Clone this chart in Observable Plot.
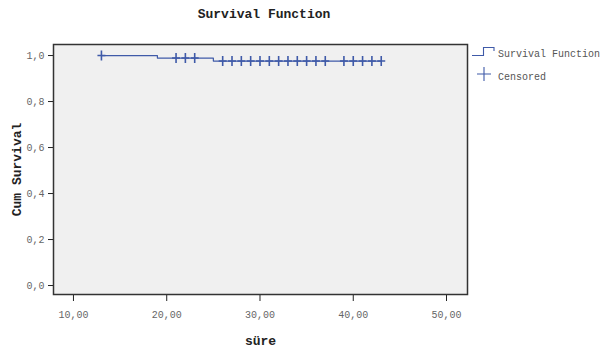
<!DOCTYPE html>
<html>
<head>
<meta charset="utf-8">
<script src="https://cdn.jsdelivr.net/npm/d3@7"></script>
<script src="https://cdn.jsdelivr.net/npm/@observablehq/plot@0.6"></script>
<style>
  html, body { margin: 0; padding: 0; background: #fff; }
  #wrap { position: relative; width: 600px; height: 353px; overflow: hidden; font-family: "Liberation Mono", "DejaVu Sans Mono", monospace; }
  #title { position: absolute; left: 0; top: 7px; width: 528px; text-align: center; font-weight: bold; font-size: 13px; color: #222; }
  #legend { position: absolute; left: 468px; top: 40px; width: 132px; height: 50px; overflow: visible; }
  #chart { position: absolute; left: 0; top: 0; }
</style>
</head>
<body>
<div id="wrap">
  <div id="chart"></div>
  <div id="title">Survival Function</div>
  <svg id="legend" width="132" height="50"></svg>
</div>
<script>
// Survival function steps (time, cumulative survival)
const stepTimes = [13, 19, 25, 43];
const stepSurvival = [1.0, 0.989, 0.976, 0.976];
// Censored observations (time, survival at that time)
const censorTimes = [13, 21, 22, 23, 26, 27, 28, 29, 30, 31, 32, 33, 34, 35, 36, 37, 39, 40, 41, 42, 43];
const censorSurvival = [1.0, 0.989, 0.989, 0.989, 0.976, 0.976, 0.976, 0.976, 0.976, 0.976, 0.976, 0.976, 0.976, 0.976, 0.976, 0.976, 0.976, 0.976, 0.976, 0.976, 0.976];
const xTicks = [10, 20, 30, 40, 50];
const yTicks = [0, 0.2, 0.4, 0.6, 0.8, 1.0];
const seriesNames = ["Survival Function", "Censored"];

const lineColor = "#3f5aa8";
const steps = stepTimes.map((t, i) => ({t, s: stepSurvival[i]}));
const censors = censorTimes.map((t, i) => ({t, s: censorSurvival[i]}));

const crossSymbol = {
  draw(ctx, size) {
    ctx.moveTo(-4, 0); ctx.lineTo(4, 0);
    ctx.moveTo(0, -5); ctx.lineTo(0, 5);
  }
};

const fmtX = d => d3.format(".2f")(d).replace(".", ",");
const fmtY = d => d3.format(".1f")(d).replace(".", ",");

const chart = Plot.plot({
  width: 600,
  height: 353,
  marginLeft: 53,
  marginRight: 133,
  marginTop: 44,
  marginBottom: 59,
  style: {fontFamily: "'Liberation Mono', 'DejaVu Sans Mono', monospace", fontSize: "10px", background: "transparent", color: "#666"},
  x: {domain: [7.86, 52.25], ticks: xTicks, tickFormat: fmtX},
  y: {domain: [-0.039, 1.048], ticks: yTicks, tickFormat: fmtY},
  marks: [
    Plot.frame({fill: "#f0f0f0", stroke: "none"}),
    Plot.axisX({ticks: xTicks, tickFormat: fmtX, tickSize: 7, tickPadding: 9, stroke: "#222", color: "#666",
      label: "süre", labelAnchor: "center", labelArrow: "none", labelOffset: 50}),
    Plot.axisY({ticks: yTicks, tickFormat: fmtY, tickSize: 5, tickPadding: 4, stroke: "#222", color: "#666",
      label: "Cum Survival", labelAnchor: "center", labelArrow: "none", labelOffset: 42}),
    Plot.line(steps, {x: "t", y: "s", curve: "step-after", stroke: lineColor, strokeWidth: 1.2}),
    Plot.dot(censors, {x: "t", y: "s", symbol: crossSymbol, stroke: lineColor, strokeWidth: 1.6, fill: "none"}),
    Plot.frame({stroke: "#333", strokeWidth: 1.5})
  ]
});
// style axis labels
chart.querySelectorAll("g[aria-label='x-axis label'] text, g[aria-label='y-axis label'] text").forEach(t => {
  t.setAttribute("font-weight", "bold");
  t.setAttribute("font-size", "13px");
  t.setAttribute("fill", "#222");
});
document.getElementById("chart").appendChild(chart);

// Legend
const lg = d3.select("#legend");
lg.append("path").attr("d", "M4,15.5H15.5V7.5H26V11").attr("fill", "none").attr("stroke", lineColor).attr("stroke-width", 1.1);
lg.append("text").attr("x", 30).attr("y", 17).attr("font-size", "10px").attr("fill", "#555")
  .attr("font-family", "'Liberation Mono', monospace").text(seriesNames[0]);
lg.append("path").attr("d", "M9,34H23M16,27V41").attr("fill", "none").attr("stroke", lineColor).attr("stroke-width", 1.1);
lg.append("text").attr("x", 30).attr("y", 40).attr("font-size", "10px").attr("fill", "#555")
  .attr("font-family", "'Liberation Mono', monospace").text(seriesNames[1]);
</script>
</body>
</html>
